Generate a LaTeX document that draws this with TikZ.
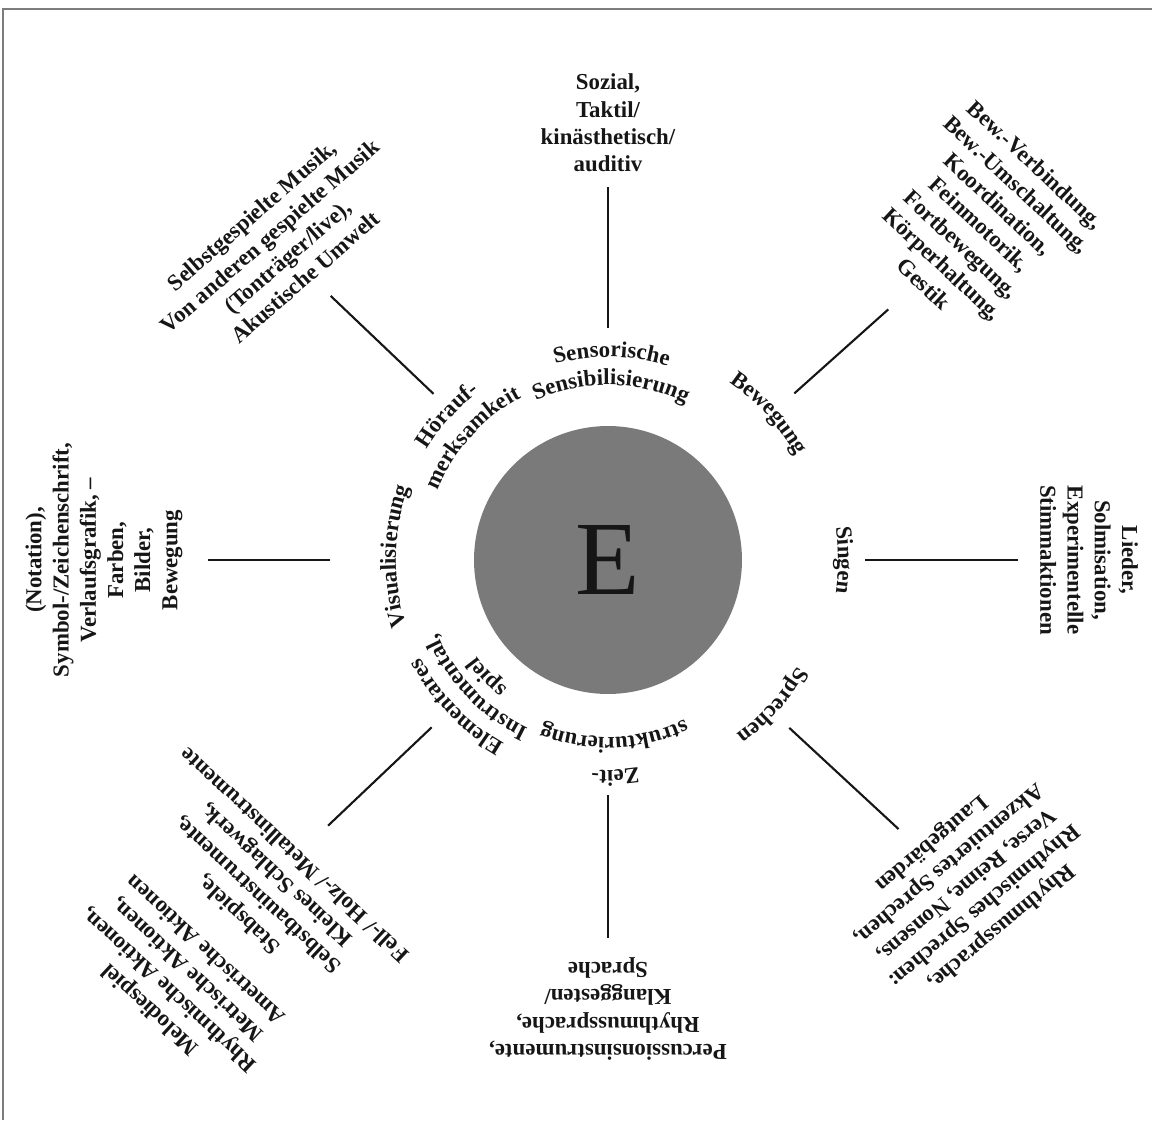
\documentclass[tikz,border=0pt]{standalone}
\usepackage{fontspec}
\setmainfont{Liberation Serif}
\usepackage{xcolor}
\usepackage{tikz}
\usetikzlibrary{decorations.text}
\definecolor{discgray}{RGB}{122,122,122}
\definecolor{inkblack}{RGB}{22,22,22}
\definecolor{framegray}{RGB}{125,125,125}
\newcommand\ringfont{\fontsize{13}{15}\selectfont\bfseries}
\newcommand\ringlabel[3]{%
  \path[decorate, decoration={text along path, text align=center,
        text color=inkblack, text={|\ringfont|#3}}]
    (#1+70:#2) arc[start angle=#1+70, end angle=#1-70, radius=#2];}
\tikzset{
  outer/.style     = {align=center, inner sep=0pt, text=inkblack,
                      font=\fontsize{13}{15.5}\selectfont\bfseries},
  disc/.style      = {circle, fill=discgray, inner sep=0pt,
                      minimum size=5.36cm, text=inkblack,
                      font=\fontsize{60}{60}\selectfont},
  spoke/.style     = {line width=1.2pt, color=inkblack},
  frameline/.style = {line width=0.9pt, color=framegray},
}

\begin{document}
\begin{tikzpicture}[x=0.02cm, y=0.02cm]
  \useasboundingbox (-608,-560) rectangle (544,560);
  \draw[frameline] (544,551) -- (-605,551) -- (-605,-560);

  \node[disc] (core) at (0,0) {E};

  \ringlabel{89}{203}{Sensorische}
  \ringlabel{89}{175}{Sensibilisierung}
  \ringlabel{42.4}{215}{Bewegung}
  \ringlabel{0}{230}{Singen}
  \ringlabel{-41.5}{217}{Sprechen}
  \ringlabel{-88}{210}{Zeit-}
  \ringlabel{-88}{177}{strukturierung}
  \ringlabel{-136}{211}{Elementares}
  \ringlabel{-136}{186}{Instrumental,}
  \ringlabel{-136}{163}{spiel}
  \ringlabel{179}{212}{Visualisierung}
  \ringlabel{138}{212}{Hörauf-}
  \ringlabel{138}{184}{merksamkeit}

  \node[outer] (sensorik) at (90:437) {Sozial,\\Taktil/\\kinästhetisch/\\auditiv};
  \node[outer, rotate=-43] (bewegung) at (42.1:501)
    {Bew.-Verbindung,\\Bew.-Umschaltung,\\Koordination,\\Feinmotorik,\\Fortbewegung,\\Körperhaltung,\\Gestik};
  \node[outer, rotate=-90] (singen) at (0:481)
    {Lieder,\\Solmisation,\\Experimentelle\\Stimmaktionen};
  \node[outer, rotate=-140] (sprechen) at (-42.2:483)
    {Rhythmussprache,\\Rhythmisches Sprechen:\\Verse, Reime, Nonsens,\\Akzentuiertes Sprechen,\\Lautgebärden};
  \node[outer, rotate=180] (zeit) at (-90:449)
    {Percussionsinstrumente,\\Rhythmussprache,\\Klanggesten/\\Sprache};
  \node[outer, rotate=137] (spiel) at (-136:537)
    {Melodiespiel\\Rhythmische Aktionen,\\Metrische Aktionen,\\Ametrische Aktionen\\[12pt]Stabspiele,\\Selbstbauinstrumente,\\Kleines Schlagwerk,\\Fell-/ Holz-/ Metallinstrumente};
  \node[outer, rotate=90] (visual) at (180:504)
    {(Notation),\\Symbol-/Zeichenschrift,\\Verlaufsgrafik, –\\Farben,\\Bilder,\\Bewegung};
  \node[outer, rotate=41] (hoeren) at (136.4:455)
    {Selbstgespielte Musik,\\Von anderen gespielte Musik\\(Tonträger/live),\\Akustische Umwelt};

  \coordinate (sens-a) at (90:232);     \coordinate (sens-b) at (90:373);
  \coordinate (bew-a) at (41.8:250);    \coordinate (bew-b) at (41.8:376);
  \coordinate (sing-a) at (0:257);      \coordinate (sing-b) at (0:410);
  \coordinate (spr-a) at (-42.8:247);   \coordinate (spr-b) at (-42.8:396);
  \coordinate (zeit-a) at (-90:235);    \coordinate (zeit-b) at (-90:378);
  \coordinate (spiel-a) at (-136.5:243); \coordinate (spiel-b) at (-136.5:386);
  \coordinate (vis-a) at (180:278);     \coordinate (vis-b) at (180:400);
  \coordinate (hoer-a) at (136.4:241);  \coordinate (hoer-b) at (136.4:383);

  \draw[spoke] (sens-a) -- (sens-b);
  \draw[spoke] (bew-a) -- (bew-b);
  \draw[spoke] (sing-a) -- (sing-b);
  \draw[spoke] (spr-a) -- (spr-b);
  \draw[spoke] (zeit-a) -- (zeit-b);
  \draw[spoke] (spiel-a) -- (spiel-b);
  \draw[spoke] (vis-a) -- (vis-b);
  \draw[spoke] (hoer-a) -- (hoer-b);
\end{tikzpicture}
\end{document}
